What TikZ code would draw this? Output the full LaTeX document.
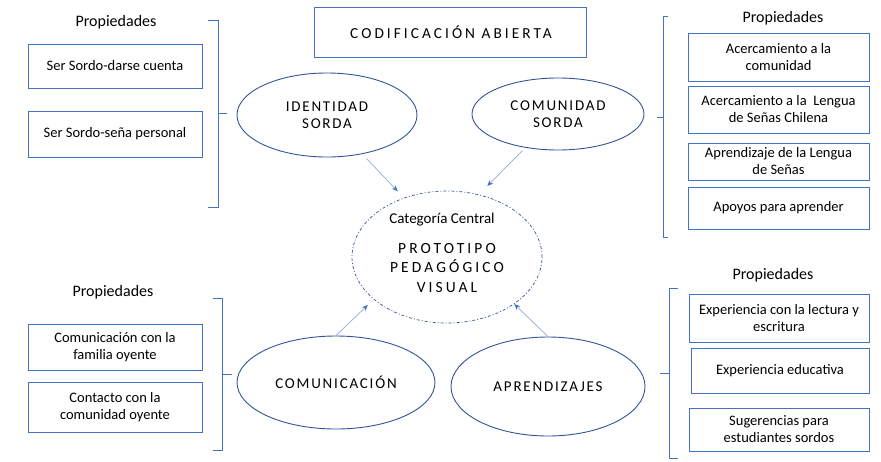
\documentclass[tikz,border=0pt]{standalone}
\usepackage{fontspec}
\setmainfont{Carlito}
\newfontfamily\capsfont[LetterSpace=12]{Carlito}
\newfontfamily\capswide[LetterSpace=20]{Carlito}
\usetikzlibrary{shapes.geometric,arrows.meta}
\definecolor{boxblue}{HTML}{4472C4}
\definecolor{ellblue}{HTML}{2F5597}
\definecolor{arrblue}{HTML}{8FAADC}
\tikzset{
  propbox/.style={draw=boxblue, line width=0.9pt, align=center, inner sep=0pt, font=\fontsize{14.5}{17}\selectfont},
  ell/.style={draw=ellblue, line width=0.9pt, ellipse, inner sep=0pt, align=center, font=\capsfont\fontsize{15}{16.5}\selectfont},
  proptitle/.style={font=\fontsize{16}{18}\selectfont, inner sep=0pt},
  brace/.style={draw=boxblue, line width=0.9pt},
  arr/.style={draw=arrblue, line width=0.7pt, -{Stealth[length=6pt,width=5pt,color=boxblue]}},
  central/.style={draw=ellblue, line width=0.7pt, ellipse, dash pattern=on 3pt off 2pt on 1pt off 2pt},
}
\begin{document}
\begin{tikzpicture}[x=1pt,y=-1pt]
\useasboundingbox (0,0) rectangle (881,461);

% title
\node[draw=boxblue, line width=0.9pt, minimum width=272pt, minimum height=50pt, inner sep=0pt, font=\capswide\fontsize{15.3}{16}\selectfont] (title) at (450,32.5) {\hspace*{2pt}CODIFICACIÓN ABIERTA};

% property titles
\node[proptitle] (p1) at (116,22) {Propiedades};
\node[proptitle] (p2) at (783,18) {Propiedades};
\node[proptitle] (p3) at (113,292) {Propiedades};
\node[proptitle] (p4) at (773,275) {Propiedades};

% left-top boxes
\node[propbox, minimum width=174pt, minimum height=44pt] (b11) at (115,66) {Ser Sordo-darse cuenta};
\node[propbox, minimum width=174pt, minimum height=46pt] (b12) at (115,134) {Ser Sordo-seña personal};

% right-top boxes
\node[propbox, minimum width=181pt, minimum height=48pt] (b21) at (778.5,57) {Acercamiento a la\\comunidad};
\node[propbox, minimum width=181pt, minimum height=47pt] (b22) at (778.5,109.5) {Acercamiento a la\ \ Lengua\\de Señas Chilena};
\node[propbox, minimum width=181pt, minimum height=37pt] (b23) at (778.5,161.5) {Aprendizaje de la Lengua\\de Señas};
\node[propbox, minimum width=181pt, minimum height=42pt] (b24) at (778.5,208) {Apoyos para aprender};

% left-bottom boxes
\node[propbox, minimum width=174pt, minimum height=46pt] (b31) at (115,347) {Comunicación con la\\familia oyente};
\node[propbox, minimum width=174pt, minimum height=50pt] (b32) at (115,407) {Contacto con la\\comunidad oyente};

% right-bottom boxes
\node[propbox, minimum width=180pt, minimum height=48pt] (b41) at (779,318) {Experiencia con la lectura y\\escritura};
\node[propbox, minimum width=178pt, minimum height=45pt] (b42) at (780,370.5) {Experiencia educativa};
\node[propbox, minimum width=180pt, minimum height=43pt] (b43) at (779,429.5) {Sugerencias para\\estudiantes sordos};

% braces
\draw[brace] (208,20) -- (218,20) -- (218,207) -- (208,207);
\draw[brace] (218,113) -- (227,113);
\draw[brace] (668,16) -- (663,16) -- (663,237) -- (668,237);
\draw[brace] (663,117) -- (657,117);
\draw[brace] (213,298) -- (222,298) -- (222,450) -- (213,450);
\draw[brace] (222,374) -- (232,374);
\draw[brace] (678,288) -- (669,288) -- (669,458) -- (678,458);
\draw[brace] (669,373) -- (660,373);

% ellipses
\node[ell, minimum width=180pt, minimum height=84pt] (id) at (327,115) {IDENTIDAD\\SORDA};
\node[ell, minimum width=172pt, minimum height=72pt] (comu) at (558,114) {COMUNIDAD\\SORDA};
\node[ell, minimum width=198pt, minimum height=93pt] (com) at (336,382.5) {COMUNICACIÓN};
\node[ell, minimum width=194pt, minimum height=99pt] (apr) at (548,386.5) {APRENDIZAJES};

% central
\node[central, minimum width=190pt, minimum height=132pt, inner sep=0pt] (cen) at (447,257) {};
\node[font=\fontsize{15}{17}\selectfont, inner sep=0pt] (cat) at (442,220) {Categoría Central};
\node[font=\capswide\fontsize{15.5}{19.5}\selectfont, align=center, inner sep=0pt] (proto) at (447,268) {PROTOTIPO\\PEDAGÓGICO\\VISUAL};

% arrows
\draw[arr, shorten <=6pt, shorten >=9pt] (id.312) -- (cen.126);
\draw[arr, shorten <=4pt, shorten >=12pt] (comu.226) -- (cen.63);
\draw[arr, shorten >=8pt] (com.north) -- (cen.210);
\draw[arr] (apr.north) -- (cen.325);
\end{tikzpicture}
\end{document}
